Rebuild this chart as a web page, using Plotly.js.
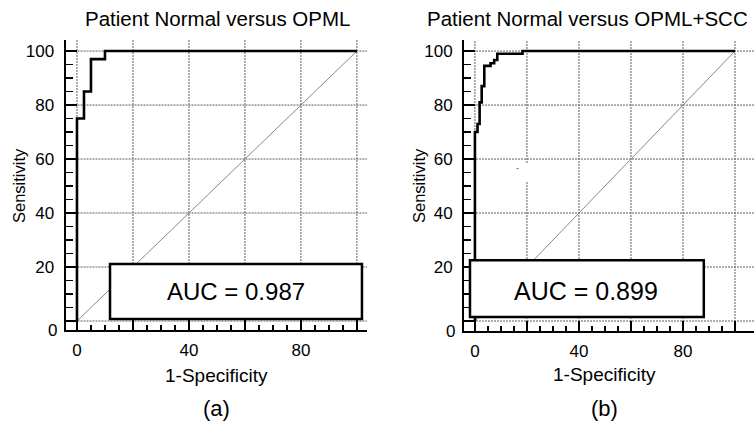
<!DOCTYPE html>
<html>
<head>
<meta charset="utf-8">
<script src="https://cdn.plot.ly/plotly-3.0.1.min.js"></script>
<style>html,body{margin:0;padding:0;background:#fff;}#chart{width:754px;height:422px;}</style>
</head>
<body>
<div id="chart"></div>
<script>
// ---- data (percent) ----
const fprA = [0, 0, 2.5, 5, 10, 100];
const tprA = [0, 75, 85, 97, 100, 100];
const fprB = [0, 0, 1.0, 1.8, 2.6, 3.6, 6.0, 7.4, 8.6, 18.3, 100];
const tprB = [0, 70, 73, 81, 87, 94.5, 95.5, 96.7, 99, 100, 100];
const refLine = [0, 100];
const titles = ["Patient Normal versus OPML", "Patient Normal versus OPML+SCC"];
const aucLabels = ["AUC = 0.987", "AUC = 0.899"];
const panelLabels = ["(a)", "(b)"];
const majorTicks = [0, 20, 40, 60, 80, 100];
const xTickText = ["0", "", "40", "", "80", ""];
const yTickText = ["", "20", "40", "60", "80", "100"];

const FONT = "Liberation Sans, Arial, sans-serif";
const minorVals = [];
for (let v = 5; v < 100; v += 5) if (v % 20 !== 0) minorVals.push(v);

const traces = [
  {x: refLine, y: refLine, xaxis: 'x', yaxis: 'y', mode: 'lines',
   line: {color: '#888', width: 1}, hoverinfo: 'skip'},
  {x: fprA, y: tprA, xaxis: 'x', yaxis: 'y', mode: 'lines',
   line: {color: '#000', width: 2.6, shape: 'hv'}},
  {x: refLine, y: refLine, xaxis: 'x2', yaxis: 'y2', mode: 'lines',
   line: {color: '#888', width: 1}, hoverinfo: 'skip'},
  {x: fprB, y: tprB, xaxis: 'x2', yaxis: 'y2', mode: 'lines',
   line: {color: '#000', width: 2.6, shape: 'hv'}},
  // empty helper traces so the minor-tick overlay axes are drawn
  {x: [null], y: [null], xaxis: 'x3', yaxis: 'y3', mode: 'lines', hoverinfo: 'skip'},
  {x: [null], y: [null], xaxis: 'x4', yaxis: 'y4', mode: 'lines', hoverinfo: 'skip'}
];

function xAx(domain, range, anchor) {
  return {
    domain: domain, range: range, anchor: anchor, showline: true, linecolor: '#000', linewidth: 2,
    zeroline: false, showgrid: false,
    tickmode: 'array', tickvals: majorTicks, ticktext: xTickText,
    ticks: 'inside', ticklen: 10, tickwidth: 1.5, tickcolor: '#000',
    tickfont: {family: FONT, size: 17, color: '#000'}, ticklabelstandoff: 4,
    fixedrange: true
  };
}
function yAx(domain, range, anchor) {
  return {
    domain: domain, range: range, anchor: anchor, showline: true, linecolor: '#000', linewidth: 2,
    zeroline: false, showgrid: false,
    tickmode: 'array', tickvals: majorTicks, ticktext: yTickText,
    ticks: 'inside', ticklen: 11, tickwidth: 1.5, tickcolor: '#000',
    tickfont: {family: FONT, size: 17, color: '#000'}, ticklabelstandoff: 6,
    fixedrange: true
  };
}
function minorAx(over, anchor, range, len) {
  return {
    overlaying: over, anchor: anchor, range: range, showline: false, showgrid: false,
    zeroline: false, showticklabels: false, tickmode: 'array', tickvals: minorVals,
    ticks: 'inside', ticklen: len, tickwidth: 1.5, tickcolor: '#000', fixedrange: true
  };
}

// dotted grid at the major tick values
const gridStyle = {color: '#5e5e5e', width: 1, dash: '2px,1px'};
const shapes = [];
[['x', 'y'], ['x2', 'y2']].forEach(([xa, ya]) => {
  majorTicks.forEach(v => {
    shapes.push({type: 'line', xref: xa, yref: ya + ' domain', x0: v, x1: v, y0: 0, y1: 1,
                 line: gridStyle, layer: 'below'});
    shapes.push({type: 'line', xref: xa + ' domain', yref: ya, x0: 0, x1: 1, y0: v, y1: v,
                 line: gridStyle, layer: 'below'});
  });
});
shapes.push(
  {type: 'rect', xref: 'x2', yref: 'y2', x0: 14, x1: 21.5, y0: 51.5, y1: 58.5,
   fillcolor: '#fff', line: {width: 0}, layer: 'below'},
  {type: 'rect', xref: 'x', yref: 'y', x0: 11.8, x1: 101.8, y0: 0.7, y1: 21.1,
   fillcolor: '#fff', line: {color: '#000', width: 2.5}, layer: 'above'},
  {type: 'rect', xref: 'x2', yref: 'y2', x0: -1.9, x1: 88, y0: 1.5, y1: 22.5,
   fillcolor: '#fff', line: {color: '#000', width: 2.5}, layer: 'above'}
);

const W = 754, H = 422;
const rxA = [-4.1, 103.6], ryA = [-3.33, 104.1];
const rxB = [-4.2, 107.3], ryB = [-3.7, 104.1];
const layout = {
  width: W, height: H, margin: {l: 0, r: 0, t: 0, b: 0},
  paper_bgcolor: '#fff', plot_bgcolor: 'rgba(0,0,0,0)', showlegend: false,
  font: {family: FONT, color: '#000'},
  xaxis: xAx([65.5 / W, 367 / W], rxA, 'y'),
  yaxis: yAx([(H - 330) / H, (H - 40) / H], ryA, 'x'),
  xaxis2: xAx([464 / W, 1], rxB, 'y2'),
  yaxis2: yAx([(H - 331) / H, (H - 40) / H], ryB, 'x2'),
  xaxis3: minorAx('x', 'y', rxA, 5),
  yaxis3: minorAx('y', 'x', ryA, 7),
  xaxis4: minorAx('x2', 'y2', rxB, 5),
  yaxis4: minorAx('y2', 'x2', ryB, 7),
  shapes: shapes,
  annotations: [
    {text: titles[0], xref: 'paper', yref: 'paper', x: 83 / W, y: 1 - 19 / H, xanchor: 'left', yanchor: 'middle',
     showarrow: false, font: {size: 20.5, family: FONT}},
    {text: titles[1], xref: 'paper', yref: 'paper', x: 425 / W, y: 1 - 19 / H, xanchor: 'left', yanchor: 'middle',
     showarrow: false, font: {size: 20.5, family: FONT}},
    {text: aucLabels[0], xref: 'x', yref: 'y', x: (11.8 + 101.8) / 2, y: 10.9, showarrow: false,
     font: {size: 24, family: FONT}},
    {text: aucLabels[1], xref: 'x2', yref: 'y2', x: 42.8, y: 11, showarrow: false,
     font: {size: 25, family: FONT}},
    {text: 'Sensitivity', xref: 'paper', yref: 'paper', x: 19 / W, y: 1 - 186 / H, textangle: -90,
     xanchor: 'center', yanchor: 'middle', showarrow: false, font: {size: 16.5, family: FONT}},
    {text: 'Sensitivity', xref: 'paper', yref: 'paper', x: 419 / W, y: 1 - 186 / H, textangle: -90,
     xanchor: 'center', yanchor: 'middle', showarrow: false, font: {size: 16.5, family: FONT}},
    {text: '1-Specificity', xref: 'x', yref: 'paper', x: 50, y: 1 - 375 / H, yanchor: 'middle',
     showarrow: false, font: {size: 19, family: FONT}},
    {text: '1-Specificity', xref: 'x2', yref: 'paper', x: 50, y: 1 - 374 / H, yanchor: 'middle',
     showarrow: false, font: {size: 19, family: FONT}},
    {text: panelLabels[0], xref: 'x', yref: 'paper', x: 50, y: 1 - 408 / H, yanchor: 'middle',
     showarrow: false, font: {size: 22, family: FONT}},
    {text: panelLabels[1], xref: 'x2', yref: 'paper', x: 50, y: 1 - 408 / H, yanchor: 'middle',
     showarrow: false, font: {size: 22, family: FONT}},
    {text: '0', xref: 'x domain', yref: 'y domain', x: 0, y: 0, xanchor: 'right', yanchor: 'middle',
     xshift: -7, showarrow: false, font: {size: 17, family: FONT}},
    {text: '0', xref: 'x2 domain', yref: 'y2 domain', x: 0, y: 0, xanchor: 'right', yanchor: 'middle',
     xshift: -7, showarrow: false, font: {size: 17, family: FONT}},
    {text: '-', xref: 'x2', yref: 'y2', x: 16.5, y: 56.5, showarrow: false,
     font: {size: 9, family: FONT, color: '#555'}}
  ]
};

Plotly.newPlot('chart', traces, layout, {displayModeBar: false, staticPlot: true});
</script>
</body>
</html>
